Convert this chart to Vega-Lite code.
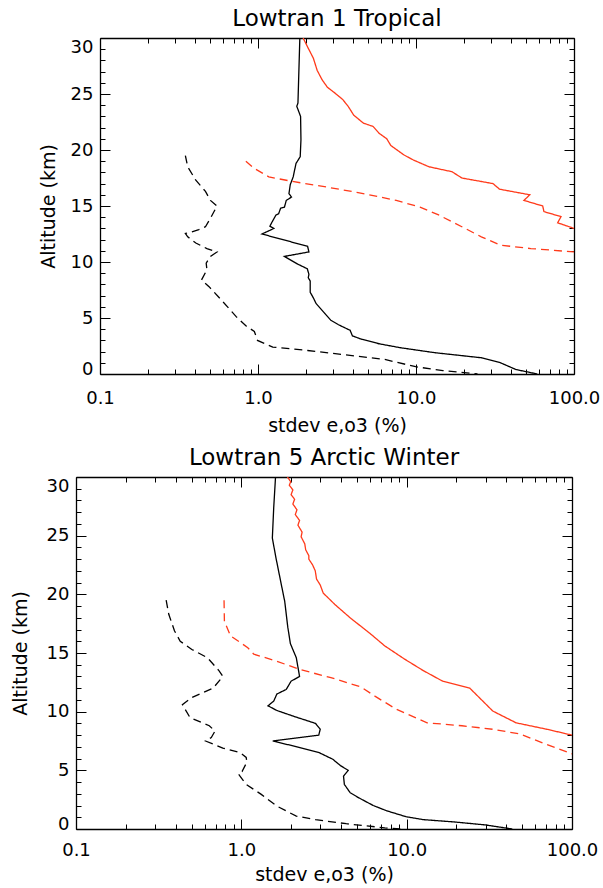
{
"$schema": "https://vega.github.io/schema/vega-lite/v6.json",
"background": "white",
"padding": {"left": 11, "top": 7, "right": 0, "bottom": 0},
"config": {
 "font": "DejaVu Sans",
 "view": {"stroke": null},
 "axis": {"grid": false, "domainColor": "black", "domainWidth": 1.3, "tickColor": "black", "tickWidth": 1, "labelColor": "black", "titleColor": "black", "labelFont": "DejaVu Sans", "titleFont": "DejaVu Sans", "labelFontSize": 18, "titleFontSize": 19, "titleFontWeight": "normal", "labelOverlap": false, "labelBound": false, "labelFlush": false},
 "title": {"font": "DejaVu Sans", "fontSize": 23, "fontWeight": "normal", "color": "black", "frame": "group", "anchor": "middle", "offset": 7},
 "line": {"strokeWidth": 1.3}
},
"datasets": {
 "trop": [
  {"s":"A","v":1.84,"alt":30},{"s":"A","v":1.79,"alt":24.2},{"s":"A","v":1.76,"alt":23.9},{"s":"A","v":1.86,"alt":23.0},{"s":"A","v":1.87,"alt":20.9},{"s":"A","v":1.85,"alt":19.4},{"s":"A","v":1.74,"alt":18.8},{"s":"A","v":1.67,"alt":17.6},{"s":"A","v":1.60,"alt":16.9},{"s":"A","v":1.57,"alt":16.1},{"s":"A","v":1.63,"alt":15.8},{"s":"A","v":1.51,"alt":15.5},{"s":"A","v":1.47,"alt":14.9},{"s":"A","v":1.39,"alt":14.8},{"s":"A","v":1.35,"alt":14.3},{"s":"A","v":1.30,"alt":14.2},{"s":"A","v":1.22,"alt":13.5},{"s":"A","v":1.19,"alt":13.2},{"s":"A","v":1.26,"alt":13.0},{"s":"A","v":1.22,"alt":12.9},{"s":"A","v":1.06,"alt":12.5},{"s":"A","v":2.06,"alt":11.4},{"s":"A","v":2.10,"alt":10.9},{"s":"A","v":1.47,"alt":10.5},{"s":"A","v":1.79,"alt":9.8},{"s":"A","v":2.05,"alt":9.4},{"s":"A","v":2.10,"alt":8.9},{"s":"A","v":2.08,"alt":8.6},{"s":"A","v":2.14,"alt":8.3},{"s":"A","v":2.14,"alt":7.3},{"s":"A","v":2.24,"alt":6.8},{"s":"A","v":2.33,"alt":6.3},{"s":"A","v":2.65,"alt":5.4},{"s":"A","v":2.89,"alt":4.8},{"s":"A","v":3.23,"alt":4.4},{"s":"A","v":3.83,"alt":3.9},{"s":"A","v":3.96,"alt":3.4},{"s":"A","v":4.53,"alt":3.1},{"s":"A","v":5.83,"alt":2.7},{"s":"A","v":7.94,"alt":2.35},{"s":"A","v":13.2,"alt":1.9},{"s":"A","v":25.9,"alt":1.45},{"s":"A","v":34.3,"alt":1.0},{"s":"A","v":42.9,"alt":0.4},{"s":"A","v":58.5,"alt":0},
  {"s":"B","v":0.347,"alt":19.5},{"s":"B","v":0.359,"alt":18.5},{"s":"B","v":0.404,"alt":17.3},{"s":"B","v":0.465,"alt":16.3},{"s":"B","v":0.50,"alt":15.5},{"s":"B","v":0.55,"alt":15.0},{"s":"B","v":0.50,"alt":13.9},{"s":"B","v":0.465,"alt":13.15},{"s":"B","v":0.422,"alt":12.9},{"s":"B","v":0.382,"alt":12.7},{"s":"B","v":0.347,"alt":12.55},{"s":"B","v":0.359,"alt":12.25},{"s":"B","v":0.404,"alt":11.7},{"s":"B","v":0.475,"alt":11.2},{"s":"B","v":0.55,"alt":10.9},{"s":"B","v":0.50,"alt":10.5},{"s":"B","v":0.47,"alt":9.9},{"s":"B","v":0.475,"alt":9.3},{"s":"B","v":0.439,"alt":8.4},{"s":"B","v":0.49,"alt":7.8},{"s":"B","v":0.60,"alt":6.45},{"s":"B","v":0.73,"alt":5.1},{"s":"B","v":0.838,"alt":4.3},{"s":"B","v":0.948,"alt":3.8},{"s":"B","v":0.993,"alt":3.0},{"s":"B","v":1.24,"alt":2.4},{"s":"B","v":2.06,"alt":2.1},{"s":"B","v":3.61,"alt":1.7},{"s":"B","v":6.35,"alt":1.3},{"s":"B","v":9.95,"alt":0.65},{"s":"B","v":14.8,"alt":0.3},{"s":"B","v":24.5,"alt":0},
  {"s":"C","v":1.93,"alt":30},{"s":"C","v":2.06,"alt":29.2},{"s":"C","v":2.24,"alt":28.2},{"s":"C","v":2.37,"alt":27.1},{"s":"C","v":2.55,"alt":26.25},{"s":"C","v":2.75,"alt":25.6},{"s":"C","v":3.06,"alt":25.1},{"s":"C","v":3.44,"alt":24.5},{"s":"C","v":3.72,"alt":23.9},{"s":"C","v":4.04,"alt":23.1},{"s":"C","v":4.65,"alt":22.4},{"s":"C","v":5.35,"alt":22.1},{"s":"C","v":5.83,"alt":21.5},{"s":"C","v":6.53,"alt":21.0},{"s":"C","v":6.93,"alt":20.4},{"s":"C","v":8.41,"alt":19.55},{"s":"C","v":9.65,"alt":19.1},{"s":"C","v":12.1,"alt":18.5},{"s":"C","v":16.9,"alt":18.06},{"s":"C","v":19.5,"alt":17.5},{"s":"C","v":30.7,"alt":17.0},{"s":"C","v":33.8,"alt":16.5},{"s":"C","v":52.5,"alt":16.0},{"s":"C","v":48.2,"alt":15.5},{"s":"C","v":63.4,"alt":15.0},{"s":"C","v":64.5,"alt":14.5},{"s":"C","v":82.8,"alt":14.05},{"s":"C","v":78.8,"alt":13.5},{"s":"C","v":100,"alt":13.0},
  {"s":"D","v":0.838,"alt":19.0},{"s":"D","v":0.938,"alt":18.4},{"s":"D","v":1.17,"alt":17.6},{"s":"D","v":1.64,"alt":17.2},{"s":"D","v":2.7,"alt":16.7},{"s":"D","v":4.3,"alt":16.2},{"s":"D","v":7.5,"alt":15.5},{"s":"D","v":10.6,"alt":14.9},{"s":"D","v":13.9,"alt":14.2},{"s":"D","v":19.5,"alt":13.15},{"s":"D","v":25.9,"alt":12.25},{"s":"D","v":34.3,"alt":11.5},{"s":"D","v":53.3,"alt":11.2},{"s":"D","v":100,"alt":10.9}
 ],
 "arc": [
  {"s":"A","v":1.61,"alt":30},{"s":"A","v":1.57,"alt":27.4},{"s":"A","v":1.54,"alt":24.8},{"s":"A","v":1.62,"alt":23.1},{"s":"A","v":1.73,"alt":21.1},{"s":"A","v":1.83,"alt":19.4},{"s":"A","v":1.91,"alt":17.2},{"s":"A","v":1.98,"alt":15.8},{"s":"A","v":2.15,"alt":14.6},{"s":"A","v":2.25,"alt":13.0},{"s":"A","v":2.0,"alt":12.6},{"s":"A","v":1.87,"alt":11.9},{"s":"A","v":1.64,"alt":11.5},{"s":"A","v":1.57,"alt":10.9},{"s":"A","v":1.45,"alt":10.5},{"s":"A","v":1.64,"alt":10.1},{"s":"A","v":2.08,"alt":9.6},{"s":"A","v":2.81,"alt":9.0},{"s":"A","v":3.0,"alt":8.5},{"s":"A","v":2.94,"alt":8.0},{"s":"A","v":1.55,"alt":7.5},{"s":"A","v":2.03,"alt":7.1},{"s":"A","v":2.96,"alt":6.5},{"s":"A","v":3.57,"alt":5.95},{"s":"A","v":3.98,"alt":5.4},{"s":"A","v":4.43,"alt":5.0},{"s":"A","v":4.15,"alt":4.5},{"s":"A","v":4.2,"alt":3.8},{"s":"A","v":4.55,"alt":3.1},{"s":"A","v":5.07,"alt":2.7},{"s":"A","v":6.28,"alt":2.0},{"s":"A","v":7.58,"alt":1.55},{"s":"A","v":9.91,"alt":1.05},{"s":"A","v":12.6,"alt":0.8},{"s":"A","v":19.4,"alt":0.6},{"s":"A","v":29.8,"alt":0.35},{"s":"A","v":43.5,"alt":0},
  {"s":"B","v":0.351,"alt":19.5},{"s":"B","v":0.364,"alt":18.3},{"s":"B","v":0.394,"alt":16.9},{"s":"B","v":0.427,"alt":16.0},{"s":"B","v":0.502,"alt":15.3},{"s":"B","v":0.623,"alt":14.6},{"s":"B","v":0.732,"alt":13.5},{"s":"B","v":0.773,"alt":13.0},{"s":"B","v":0.675,"alt":12.0},{"s":"B","v":0.502,"alt":11.2},{"s":"B","v":0.44,"alt":10.6},{"s":"B","v":0.489,"alt":9.5},{"s":"B","v":0.64,"alt":8.8},{"s":"B","v":0.693,"alt":8.35},{"s":"B","v":0.658,"alt":7.8},{"s":"B","v":0.607,"alt":7.5},{"s":"B","v":0.773,"alt":6.9},{"s":"B","v":0.984,"alt":6.5},{"s":"B","v":1.07,"alt":6.1},{"s":"B","v":1.08,"alt":5.7},{"s":"B","v":1.01,"alt":4.9},{"s":"B","v":0.958,"alt":4.7},{"s":"B","v":1.07,"alt":3.8},{"s":"B","v":1.32,"alt":2.95},{"s":"B","v":1.64,"alt":1.95},{"s":"B","v":2.15,"alt":1.1},{"s":"B","v":2.81,"alt":0.8},{"s":"B","v":4.31,"alt":0.45},{"s":"B","v":7.38,"alt":0.1},{"s":"B","v":9.15,"alt":0},
  {"s":"C","v":1.90,"alt":30},{"s":"C","v":1.99,"alt":29.6},{"s":"C","v":1.95,"alt":29.3},{"s":"C","v":2.05,"alt":28.9},{"s":"C","v":2.0,"alt":28.5},{"s":"C","v":2.10,"alt":28.1},{"s":"C","v":2.05,"alt":27.7},{"s":"C","v":2.17,"alt":27.2},{"s":"C","v":2.12,"alt":26.8},{"s":"C","v":2.25,"alt":26.3},{"s":"C","v":2.2,"alt":25.9},{"s":"C","v":2.33,"alt":25.3},{"s":"C","v":2.30,"alt":24.9},{"s":"C","v":2.42,"alt":24.3},{"s":"C","v":2.45,"alt":23.8},{"s":"C","v":2.56,"alt":23.3},{"s":"C","v":2.56,"alt":23.0},{"s":"C","v":2.7,"alt":22.5},{"s":"C","v":2.8,"alt":22.0},{"s":"C","v":2.85,"alt":21.3},{"s":"C","v":3.0,"alt":20.8},{"s":"C","v":3.13,"alt":20.1},{"s":"C","v":3.35,"alt":19.7},{"s":"C","v":3.67,"alt":19.15},{"s":"C","v":4.55,"alt":18.0},{"s":"C","v":5.96,"alt":16.7},{"s":"C","v":7.38,"alt":15.6},{"s":"C","v":9.66,"alt":14.5},{"s":"C","v":12.6,"alt":13.5},{"s":"C","v":16.5,"alt":12.6},{"s":"C","v":24.1,"alt":12.0},{"s":"C","v":33.2,"alt":10.05},{"s":"C","v":45.9,"alt":9.05},{"s":"C","v":70.5,"alt":8.5},{"s":"C","v":100,"alt":8.0},
  {"s":"D","v":0.786,"alt":19.5},{"s":"D","v":0.79,"alt":17.7},{"s":"D","v":0.861,"alt":16.45},{"s":"D","v":0.984,"alt":15.9},{"s":"D","v":1.094,"alt":15.45},{"s":"D","v":1.19,"alt":14.9},{"s":"D","v":1.64,"alt":14.3},{"s":"D","v":2.25,"alt":13.6},{"s":"D","v":3.48,"alt":12.9},{"s":"D","v":5.3,"alt":12.1},{"s":"D","v":6.46,"alt":11.3},{"s":"D","v":8.68,"alt":10.2},{"s":"D","v":13.3,"alt":9.05},{"s":"D","v":21.6,"alt":8.8},{"s":"D","v":33.2,"alt":8.5},{"s":"D","v":48.4,"alt":8.1},{"s":"D","v":70.5,"alt":7.2},{"s":"D","v":100,"alt":6.4}
 ]
},
"vconcat": [
 {
  "width": 498, "height": 336,
  "title": {"text": "Lowtran 1 Tropical", "dx": 12},
  "data": {"name": "trop"},
  "resolve": {"axis": {"x": "independent", "y": "independent"}},
  "layer": [
   {"mark": {"type": "line", "clip": true},
    "encoding": {
     "x": {"field": "v", "type": "quantitative", "scale": {"type": "log", "domain": [0.1, 100], "range": [24, 498]},
      "axis": {"orient": "bottom", "title": "stdev e,o3 (%)", "values": [0.1, 1, 10, 100], "format": ".1f", "ticks": false, "tickSize": 0, "labelPadding": 15, "titlePadding": 9}},
     "y": {"field": "alt", "type": "quantitative", "scale": {"domain": [0, 30], "nice": false},
      "axis": {"orient": "left", "offset": -24, "title": "Altitude (km)", "values": [0, 5, 10, 15, 20, 25, 30], "ticks": false, "tickSize": 0,
       "labelBaseline": {"condition": [{"test": "datum.value === 30", "value": "top"}, {"test": "datum.value === 0", "value": "alphabetic"}], "value": "middle"},
       "labelPadding": 7, "titlePadding": 12}},
     "color": {"field": "s", "type": "nominal", "scale": {"domain": ["A","B","C","D"], "range": ["#000000","#000000","#ff3a1a","#ff3a1a"]}, "legend": null},
     "strokeDash": {"field": "s", "type": "nominal", "scale": {"domain": ["A","B","C","D"], "range": [[1,0],[8,5],[1,0],[8,5]]}, "legend": null},
     "order": {"field": "alt", "type": "quantitative", "sort": "descending"}
    }},
   {"mark": {"type": "line", "strokeOpacity": 0},
    "encoding": {
     "x": {"field": "v", "type": "quantitative", "scale": {"type": "log", "domain": [0.1, 100], "range": [24, 498]},
      "axis": {"orient": "bottom", "offset": -10, "tickSize": 10, "title": null, "labels": false, "domain": false, "values": [0.1, 1, 10, 100]}},
     "y": {"field": "alt", "type": "quantitative", "scale": {"domain": [0, 30], "nice": false},
      "axis": {"orient": "left", "offset": -34, "tickSize": 10, "title": null, "labels": false, "domain": false, "values": [0, 5, 10, 15, 20, 25, 30]}},
     "detail": {"field": "s", "type": "nominal"}
    }},
   {"mark": {"type": "line", "strokeOpacity": 0},
    "encoding": {
     "x": {"field": "v", "type": "quantitative", "scale": {"type": "log", "domain": [0.1, 100], "range": [24, 498]},
      "axis": {"orient": "bottom", "offset": -5, "tickSize": 5, "title": null, "labels": false, "domain": false, "values": [0.2,0.3,0.4,0.5,0.6,0.7,0.8,0.9,2,3,4,5,6,7,8,9,20,30,40,50,60,70,80,90]}},
     "y": {"field": "alt", "type": "quantitative", "scale": {"domain": [0, 30], "nice": false},
      "axis": {"orient": "left", "offset": -29, "tickSize": 5, "title": null, "labels": false, "domain": false, "values": [1,2,3,4,6,7,8,9,11,12,13,14,16,17,18,19,21,22,23,24,26,27,28,29]}},
     "detail": {"field": "s", "type": "nominal"}
    }},
   {"mark": {"type": "line", "strokeOpacity": 0},
    "encoding": {
     "x": {"field": "v", "type": "quantitative", "scale": {"type": "log", "domain": [0.1, 100], "range": [24, 498]},
      "axis": {"orient": "top", "title": null, "labels": false, "ticks": false, "values": [0.1, 100]}},
     "y": {"field": "alt", "type": "quantitative", "scale": {"domain": [0, 30], "nice": false},
      "axis": {"orient": "right", "title": null, "labels": false, "ticks": false, "values": [0, 30]}},
     "detail": {"field": "s", "type": "nominal"}
    }},
   {"mark": {"type": "line", "strokeOpacity": 0},
    "encoding": {
     "x": {"field": "v", "type": "quantitative", "scale": {"type": "log", "domain": [0.1, 100], "range": [24, 498]},
      "axis": {"orient": "top", "offset": -10, "tickSize": 10, "title": null, "labels": false, "domain": false, "values": [0.1, 1, 10, 100]}},
     "y": {"field": "alt", "type": "quantitative", "scale": {"domain": [0, 30], "nice": false},
      "axis": {"orient": "right", "offset": -10, "tickSize": 10, "title": null, "labels": false, "domain": false, "values": [0, 5, 10, 15, 20, 25, 30]}},
     "detail": {"field": "s", "type": "nominal"}
    }},
   {"mark": {"type": "line", "strokeOpacity": 0},
    "encoding": {
     "x": {"field": "v", "type": "quantitative", "scale": {"type": "log", "domain": [0.1, 100], "range": [24, 498]},
      "axis": {"orient": "top", "offset": -5, "tickSize": 5, "title": null, "labels": false, "domain": false, "values": [0.2,0.3,0.4,0.5,0.6,0.7,0.8,0.9,2,3,4,5,6,7,8,9,20,30,40,50,60,70,80,90]}},
     "y": {"field": "alt", "type": "quantitative", "scale": {"domain": [0, 30], "nice": false},
      "axis": {"orient": "right", "offset": -5, "tickSize": 5, "title": null, "labels": false, "domain": false, "values": [1,2,3,4,6,7,8,9,11,12,13,14,16,17,18,19,21,22,23,24,26,27,28,29]}},
     "detail": {"field": "s", "type": "nominal"}
    }}
  ]
 },
 {
  "width": 496, "height": 352,
  "title": {"text": "Lowtran 5 Arctic Winter"},
  "data": {"name": "arc"},
  "resolve": {"axis": {"x": "independent", "y": "independent"}},
  "layer": [
   {"mark": {"type": "line", "clip": true},
    "encoding": {
     "x": {"field": "v", "type": "quantitative", "scale": {"type": "log", "domain": [0.1, 100]},
      "axis": {"orient": "bottom", "title": "stdev e,o3 (%)", "values": [0.1, 1, 10, 100], "format": ".1f", "ticks": false, "tickSize": 0, "labelPadding": 12, "titlePadding": 6}},
     "y": {"field": "alt", "type": "quantitative", "scale": {"domain": [0, 30], "nice": false},
      "axis": {"orient": "left", "title": "Altitude (km)", "values": [0, 5, 10, 15, 20, 25, 30], "ticks": false, "tickSize": 0,
       "labelBaseline": {"condition": [{"test": "datum.value === 30", "value": "top"}, {"test": "datum.value === 0", "value": "alphabetic"}], "value": "middle"},
       "labelPadding": 7, "titlePadding": 16}},
     "color": {"field": "s", "type": "nominal", "scale": {"domain": ["A","B","C","D"], "range": ["#000000","#000000","#ff3a1a","#ff3a1a"]}, "legend": null},
     "strokeDash": {"field": "s", "type": "nominal", "scale": {"domain": ["A","B","C","D"], "range": [[1,0],[8,5],[1,0],[8,5]]}, "legend": null},
     "order": {"field": "alt", "type": "quantitative", "sort": "descending"}
    }},
   {"mark": {"type": "line", "strokeOpacity": 0},
    "encoding": {
     "x": {"field": "v", "type": "quantitative", "scale": {"type": "log", "domain": [0.1, 100]},
      "axis": {"orient": "bottom", "offset": -10, "tickSize": 10, "title": null, "labels": false, "domain": false, "values": [0.1, 1, 10, 100]}},
     "y": {"field": "alt", "type": "quantitative", "scale": {"domain": [0, 30], "nice": false},
      "axis": {"orient": "left", "offset": -10, "tickSize": 10, "title": null, "labels": false, "domain": false, "values": [0, 5, 10, 15, 20, 25, 30]}},
     "detail": {"field": "s", "type": "nominal"}
    }},
   {"mark": {"type": "line", "strokeOpacity": 0},
    "encoding": {
     "x": {"field": "v", "type": "quantitative", "scale": {"type": "log", "domain": [0.1, 100]},
      "axis": {"orient": "bottom", "offset": -5, "tickSize": 5, "title": null, "labels": false, "domain": false, "values": [0.2,0.3,0.4,0.5,0.6,0.7,0.8,0.9,2,3,4,5,6,7,8,9,20,30,40,50,60,70,80,90]}},
     "y": {"field": "alt", "type": "quantitative", "scale": {"domain": [0, 30], "nice": false},
      "axis": {"orient": "left", "offset": -5, "tickSize": 5, "title": null, "labels": false, "domain": false, "values": [1,2,3,4,6,7,8,9,11,12,13,14,16,17,18,19,21,22,23,24,26,27,28,29]}},
     "detail": {"field": "s", "type": "nominal"}
    }},
   {"mark": {"type": "line", "strokeOpacity": 0},
    "encoding": {
     "x": {"field": "v", "type": "quantitative", "scale": {"type": "log", "domain": [0.1, 100]},
      "axis": {"orient": "top", "title": null, "labels": false, "ticks": false, "values": [0.1, 100]}},
     "y": {"field": "alt", "type": "quantitative", "scale": {"domain": [0, 30], "nice": false},
      "axis": {"orient": "right", "title": null, "labels": false, "ticks": false, "values": [0, 30]}},
     "detail": {"field": "s", "type": "nominal"}
    }},
   {"mark": {"type": "line", "strokeOpacity": 0},
    "encoding": {
     "x": {"field": "v", "type": "quantitative", "scale": {"type": "log", "domain": [0.1, 100]},
      "axis": {"orient": "top", "offset": -10, "tickSize": 10, "title": null, "labels": false, "domain": false, "values": [0.1, 1, 10, 100]}},
     "y": {"field": "alt", "type": "quantitative", "scale": {"domain": [0, 30], "nice": false},
      "axis": {"orient": "right", "offset": -10, "tickSize": 10, "title": null, "labels": false, "domain": false, "values": [0, 5, 10, 15, 20, 25, 30]}},
     "detail": {"field": "s", "type": "nominal"}
    }},
   {"mark": {"type": "line", "strokeOpacity": 0},
    "encoding": {
     "x": {"field": "v", "type": "quantitative", "scale": {"type": "log", "domain": [0.1, 100]},
      "axis": {"orient": "top", "offset": -5, "tickSize": 5, "title": null, "labels": false, "domain": false, "values": [0.2,0.3,0.4,0.5,0.6,0.7,0.8,0.9,2,3,4,5,6,7,8,9,20,30,40,50,60,70,80,90]}},
     "y": {"field": "alt", "type": "quantitative", "scale": {"domain": [0, 30], "nice": false},
      "axis": {"orient": "right", "offset": -5, "tickSize": 5, "title": null, "labels": false, "domain": false, "values": [1,2,3,4,6,7,8,9,11,12,13,14,16,17,18,19,21,22,23,24,26,27,28,29]}},
     "detail": {"field": "s", "type": "nominal"}
    }}
  ]
 }
],
"spacing": 11
}
